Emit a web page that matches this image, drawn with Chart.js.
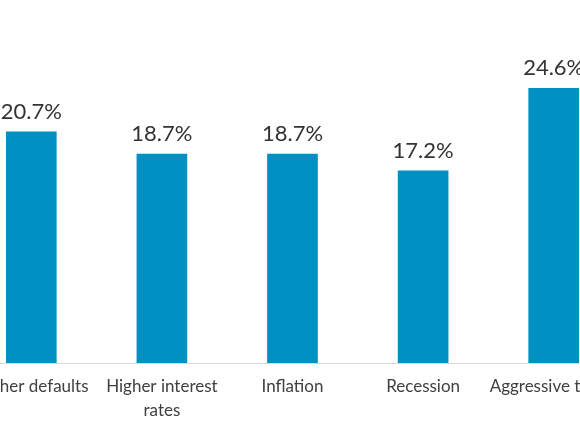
<!DOCTYPE html>
<html>
<head>
<meta charset="utf-8">
<script src="https://cdn.jsdelivr.net/npm/chart.js@4.4.0/dist/chart.umd.min.js"></script>
<style>
  html, body { margin: 0; padding: 0; background: #ffffff; overflow: hidden; width: 580px; height: 435px; }
  #wrap { position: relative; width: 580px; height: 435px; overflow: hidden; }
  #riskChart { position: absolute; left: -74px; top: 0; }
</style>
</head>
<body>
<div id="wrap">
  <canvas id="riskChart" width="733" height="435"></canvas>
</div>
<script>
// Data kategori dan nilai (persen)
const categories = ["Higher defaults", ["Higher interest", "rates"], "Inflation", "Recession", "Aggressive tariffs"];
const shareValues = [20.7, 18.7, 18.7, 17.2, 24.6];

// Plugin kecil untuk menulis nilai di atas setiap batang
const valueLabels = {
  id: "valueLabels",
  afterDatasetsDraw(chart) {
    const ctx = chart.ctx;
    const meta = chart.getDatasetMeta(0);
    ctx.save();
    ctx.font = "22px Lato";
    ctx.fillStyle = "#333333";
    ctx.textAlign = "center";
    ctx.textBaseline = "alphabetic";
    meta.data.forEach((bar, i) => {
      ctx.fillText(shareValues[i].toFixed(1) + "%", bar.x, bar.y - 13);
    });
    ctx.restore();
  }
};

const ctx = document.getElementById("riskChart").getContext("2d");

const riskChart = new Chart(ctx, {
  type: "bar",
  data: {
    labels: categories,
    datasets: [{
      data: shareValues,
      backgroundColor: "#0090c1",
      borderWidth: 0,
      barThickness: 50
    }]
  },
  options: {
    responsive: false,
    animation: false,
    layout: { padding: { left: 40, right: 40, top: 0, bottom: 0 } },
    plugins: {
      legend: { display: false },
      tooltip: { enabled: false }
    },
    scales: {
      x: {
        grid: { display: false },
        border: { display: true, color: "#d9d9d9", width: 1 },
        ticks: {
          color: "#404040",
          font: { family: "Lato", size: 17, lineHeight: 1.4 },
          padding: 4,
          maxRotation: 0,
          autoSkip: false
        },
        afterFit: (scale) => { scale.height = 72; }
      },
      y: {
        display: false,
        min: 0,
        max: 32.5
      }
    }
  },
  plugins: [valueLabels]
});
</script>
</body>
</html>
